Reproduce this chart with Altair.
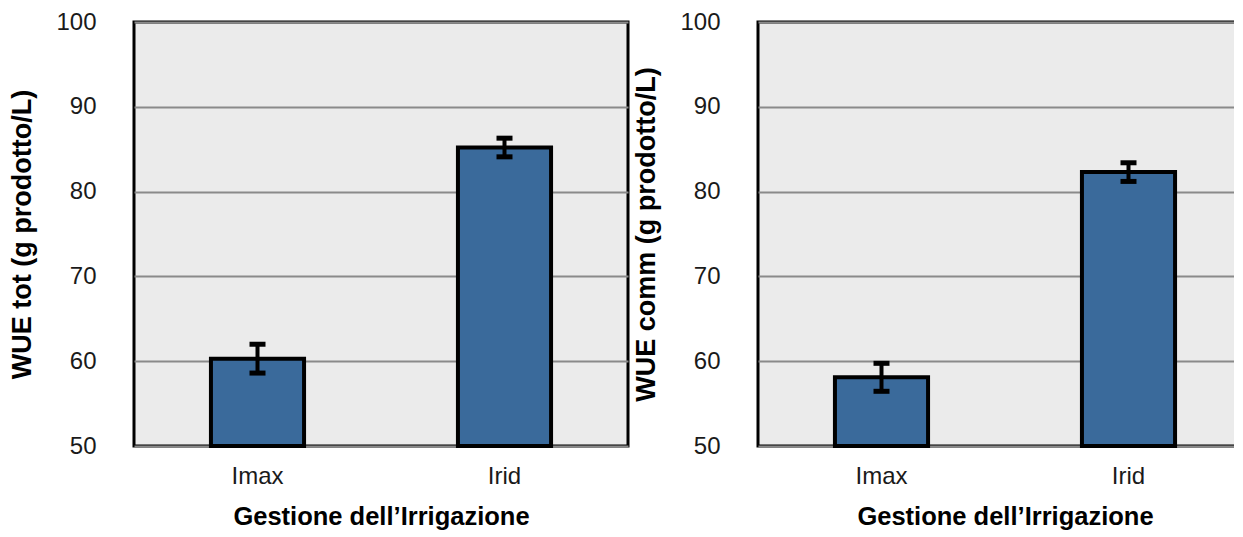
import altair as alt
import pandas as pd

categories = ["Imax", "Irid"]
tot_mean = [60.3, 85.2]
tot_err = [1.7, 1.1]
comm_mean = [58.1, 82.3]
comm_err = [1.65, 1.1]
y_ticks = [50, 60, 70, 80, 90, 100]

x_title = "Gestione dell\u2019Irrigazione"
FONT = "Liberation Sans"
BAR_FILL = "#3a6a9b"


def panel(means, errs, ytitle):
    df = pd.DataFrame({
        "cat": categories,
        "mean": means,
        "lo": [m - e for m, e in zip(means, errs)],
        "hi": [m + e for m, e in zip(means, errs)],
    })
    x = alt.X(
        "cat:N",
        sort=categories,
        scale=alt.Scale(paddingInner=0.623, paddingOuter=0.3115),
        axis=alt.Axis(
            title=x_title, labelAngle=0, ticks=False, tickSize=0, domain=False,
            labelPadding=18, titlePadding=16, titleFontSize=25.5,
        ),
    )
    yscale = alt.Scale(domain=[50, 100], nice=False, zero=False)
    bars = alt.Chart(df).mark_bar(
        fill=BAR_FILL, stroke="black", strokeWidth=4
    ).encode(
        x=x,
        y=alt.Y(
            "mean:Q", scale=yscale,
            axis=alt.Axis(
                title=ytitle, values=y_ticks, ticks=False, tickSize=0, domain=False,
                labelPadding=38, titlePadding=19, grid=True, titleFontSize=27,
            ),
        ),
        y2=alt.datum(50),
    )
    rule = alt.Chart(df).mark_rule(color="black", strokeWidth=4).encode(
        x=alt.X("cat:N", sort=categories), y=alt.Y("lo:Q", scale=yscale), y2="hi:Q"
    )
    cap_lo = alt.Chart(df).mark_tick(color="black", thickness=5, size=16, opacity=1).encode(
        x=alt.X("cat:N", sort=categories), y=alt.Y("lo:Q", scale=yscale)
    )
    cap_hi = alt.Chart(df).mark_tick(color="black", thickness=5, size=16, opacity=1).encode(
        x=alt.X("cat:N", sort=categories), y=alt.Y("hi:Q", scale=yscale)
    )
    return alt.layer(bars, rule, cap_lo, cap_hi).properties(width=494, height=424)


left = panel(tot_mean, tot_err, "WUE tot (g prodotto/L)")
right = panel(comm_mean, comm_err, "WUE comm (g prodotto/L)")

chart = alt.hconcat(left, right, spacing=1).properties(
    padding={"left": -1, "top": 0, "right": -20, "bottom": 0},
    background="white",
).configure_view(
    fill="#ebebeb", stroke="black", strokeWidth=3
).configure_axis(
    labelFont=FONT, labelFontSize=24, labelColor="#1a1a1a",
    titleFont=FONT, titleFontSize=25, titleFontWeight="bold", titleColor="black",
    gridColor="#8a8a8a", gridWidth=2, gridOpacity=1,
)

chart.save("out.html", embed_options={"renderer": "svg", "actions": False})
